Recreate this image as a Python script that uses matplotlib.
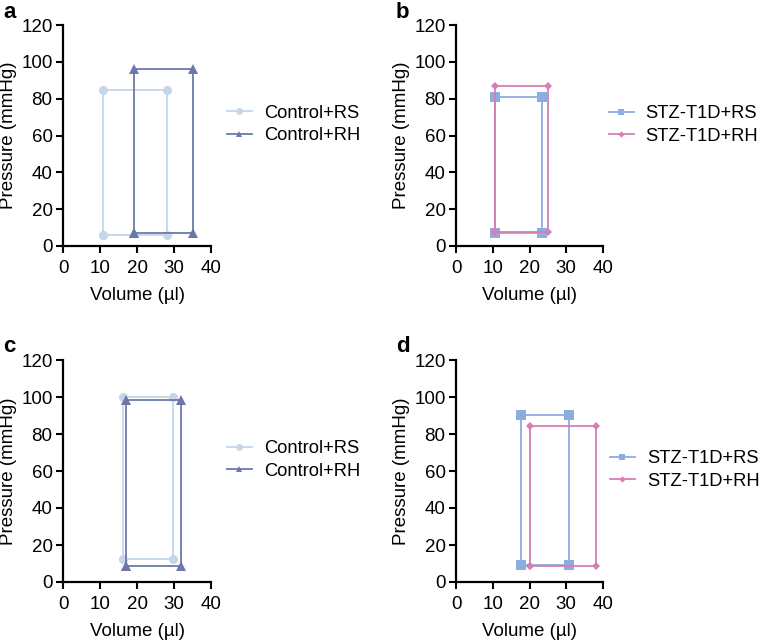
import matplotlib
matplotlib.use("Agg")
import matplotlib.pyplot as plt

plt.rcParams["font.family"] = ["Liberation Sans", "DejaVu Sans"]

# Pressure-volume loops: corner points, loop closed back to the first point
# Panel a
a_rs_vol = [10.8, 10.8, 28.2, 28.2, 10.8]
a_rs_prs = [6.2, 84.5, 84.5, 6.2, 6.2]
a_rh_vol = [19.2, 19.2, 35.1, 35.1, 19.2]
a_rh_prs = [6.9, 96.1, 96.1, 6.9, 6.9]
# Panel b
b_rs_vol = [10.5, 10.5, 23.5, 23.5, 10.5]
b_rs_prs = [7.1, 80.7, 80.7, 7.1, 7.1]
b_rh_vol = [10.5, 10.5, 24.9, 24.9, 10.5]
b_rh_prs = [7.6, 86.7, 86.7, 7.6, 7.6]
# Panel c
c_rs_vol = [16.2, 16.2, 29.8, 29.8, 16.2]
c_rs_prs = [12.3, 100.2, 100.2, 12.3, 12.3]
c_rh_vol = [17.0, 17.0, 31.8, 31.8, 17.0]
c_rh_prs = [8.5, 98.2, 98.2, 8.5, 8.5]
# Panel d
d_rs_vol = [17.6, 17.6, 30.7, 30.7, 17.6]
d_rs_prs = [9.0, 90.1, 90.1, 9.0, 9.0]
d_rh_vol = [20.1, 20.1, 38.2, 38.2, 20.1]
d_rh_prs = [8.8, 84.1, 84.1, 8.8, 8.8]

CTRL_LABELS = ["Control+RS", "Control+RH"]
STZ_LABELS = ["STZ-T1D+RS", "STZ-T1D+RH"]

CTRL_STYLE = [("#c6d6ea", "o", 6.5), ("#6c78aa", "^", 6.5)]
STZ_STYLE = [("#8dade0", "s", 6.5), ("#d67fb4", "D", 4.3)]

PANELS = [
    ("a", [(a_rs_vol, a_rs_prs), (a_rh_vol, a_rh_prs)], CTRL_LABELS, CTRL_STYLE),
    ("b", [(b_rs_vol, b_rs_prs), (b_rh_vol, b_rh_prs)], STZ_LABELS, STZ_STYLE),
    ("c", [(c_rs_vol, c_rs_prs), (c_rh_vol, c_rh_prs)], CTRL_LABELS, CTRL_STYLE),
    ("d", [(d_rs_vol, d_rs_prs), (d_rh_vol, d_rh_prs)], STZ_LABELS, STZ_STYLE),
]

W, H = 759, 640
fig = plt.figure(figsize=(W / 100, H / 100), dpi=100)

# axes boxes in pixels: left, top, right, bottom ; legend anchor (x, y) in axes coords
BOXES = [(63, 25, 211, 246), (456, 25, 603, 246),
         (63, 360, 211, 582), (456, 360, 603, 582)]
LEG_ANCHOR = [(1.108, 0.55), (1.041, 0.547), (1.108, 0.55), (1.048, 0.505)]

for (letter, series, labels, styles), (l, t, r, b), anc in zip(PANELS, BOXES, LEG_ANCHOR):
    ax = fig.add_axes([l / W, 1 - b / H, (r - l) / W, (b - t) / H])
    handles = []
    for (vol, prs), lab, (col, mk, ms) in zip(series, labels, styles):
        ax.plot(vol, prs, color=col, lw=1.3, marker=mk, markersize=ms,
                markeredgewidth=0, clip_on=False)
        h, = ax.plot([], [], color=col, lw=1.3, marker=mk,
                     markersize=ms * 0.75, markeredgewidth=0, label=lab)
        handles.append(h)
    ax.set_xlim(0, 40)
    ax.set_ylim(0, 120)
    ax.set_xticks([0, 10, 20, 30, 40])
    ax.set_yticks(range(0, 121, 20))
    for s in ["top", "right"]:
        ax.spines[s].set_visible(False)
    for s in ["left", "bottom"]:
        ax.spines[s].set_linewidth(1.6)
    ax.tick_params(direction="out", length=5, width=1.5, labelsize=13.5)
    ax.tick_params(axis="x", pad=5)
    ax.tick_params(axis="y", pad=2.5)
    ax.set_xlabel("Volume (\u00b5l)", fontsize=13.5, labelpad=7)
    ax.set_ylabel("Pressure (mmHg)", fontsize=13.5, labelpad=3)
    ax.legend(handles=handles, loc="center left", bbox_to_anchor=anc,
              borderaxespad=0, borderpad=0,
              frameon=False, fontsize=13.2, handlelength=1.35,
              handletextpad=0.65, labelspacing=0.3)
    fig.text((l - 60) / W, 1 - (t - 13) / H, letter, fontsize=16,
             fontweight="bold", va="center", ha="left")

fig.savefig("out.png", dpi=100)
